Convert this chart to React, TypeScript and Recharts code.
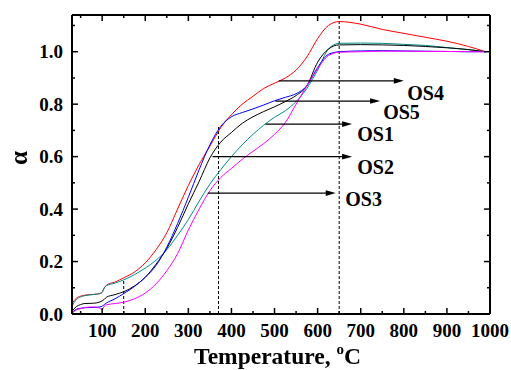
import { LineChart, Line, XAxis, YAxis, ReferenceLine, ReferenceDot } from "recharts";

const temps = [
  30, 40, 50, 60, 80, 95, 100, 105, 110, 130, 150, 175, 200, 225, 250, 275, 300, 325, 350,
  375, 400, 425, 450, 475, 500, 525, 550, 575, 600, 625, 650, 700, 750, 800, 850, 900, 950, 990,
];

// teal
const os1 = [
  0.03, 0.055, 0.065, 0.07, 0.074, 0.078, 0.085, 0.1, 0.108, 0.118, 0.13, 0.15, 0.175, 0.205,
  0.245, 0.3, 0.36, 0.43, 0.495, 0.55, 0.6, 0.645, 0.685, 0.72, 0.75, 0.775, 0.81, 0.86, 0.93,
  1.01, 1.032, 1.033, 1.032, 1.028, 1.024, 1.016, 1.008, 1.0,
];
// black
const os2 = [
  0.01, 0.028, 0.036, 0.04, 0.041, 0.046, 0.05, 0.056, 0.064, 0.074, 0.085, 0.107, 0.14, 0.19,
  0.25, 0.33, 0.42, 0.505, 0.595, 0.655, 0.692, 0.727, 0.752, 0.772, 0.79, 0.81, 0.833, 0.87,
  0.96, 1.01, 1.026, 1.027, 1.026, 1.024, 1.02, 1.015, 1.008, 1.0,
];
// magenta
const os3 = [
  0.003, 0.015, 0.02, 0.025, 0.027, 0.022, 0.015, 0.03, 0.035, 0.04, 0.045, 0.058, 0.08, 0.115,
  0.165, 0.23, 0.32, 0.4, 0.47, 0.52, 0.555, 0.59, 0.62, 0.65, 0.685, 0.73, 0.8, 0.87, 0.935,
  0.985, 0.998, 1.0, 1.002, 1.002, 1.001, 1.001, 1.0, 1.0,
];
// red
const os4 = [
  0.04, 0.06, 0.068, 0.072, 0.075, 0.078, 0.082, 0.1, 0.11, 0.122, 0.138, 0.16, 0.195, 0.245,
  0.31, 0.4, 0.49, 0.57, 0.64, 0.71, 0.76, 0.8, 0.83, 0.86, 0.88, 0.9, 0.93, 0.98, 1.05, 1.1,
  1.115, 1.105, 1.085, 1.07, 1.055, 1.04, 1.02, 1.0,
];
// blue
const os5 = [
  0.005, 0.018, 0.022, 0.024, 0.025, 0.027, 0.03, 0.036, 0.042, 0.058, 0.078, 0.105, 0.14,
  0.185, 0.255, 0.345, 0.445, 0.55, 0.645, 0.715, 0.752, 0.768, 0.782, 0.797, 0.813, 0.826,
  0.84, 0.87, 0.94, 0.99, 1.0, 1.003, 1.004, 1.003, 1.002, 1.001, 1.0, 1.0,
];

const xTicks = [50, 100, 150, 200, 250, 300, 350, 400, 450, 500, 550, 600, 650, 700, 750, 800, 850, 900, 950, 1000];
const yTicks = [0, 0.1, 0.2, 0.3, 0.4, 0.5, 0.6, 0.7, 0.8, 0.9, 1.0, 1.1];

// dashed guide lines: x position and height
const guideX = [150, 370, 650];
const guideTop = [0.13, 0.713, 1.14];

// arrows and their labels
const arrowNames = ["OS4", "OS5", "OS1", "OS2", "OS3"];
const arrowStart = [510, 502, 479, 356, 345];
const arrowEnd = [800, 745, 680, 680, 642];
const arrowY = [0.889, 0.812, 0.724, 0.6, 0.461];
const labelX = [808, 752, 692, 692, 664];
const labelY = [0.843, 0.77, 0.686, 0.56, 0.438];

const data = temps.map((t, i) => ({ t, os1: os1[i], os2: os2[i], os3: os3[i], os4: os4[i], os5: os5[i] }));

const FONT = '"Liberation Serif", "Times New Roman", Times, serif';

const isMajorX = (v: number) => v % 100 === 0;
const isMajorY = (v: number) => Math.round(v * 10) % 2 === 0;

const BottomTick = ({ x, y, payload }: any) => {
  const major = isMajorX(payload.value);
  return (
    <g>
      <line x1={x} x2={x} y1={y} y2={y - (major ? 6 : 3)} stroke="#000" strokeWidth={1.5} />
      {major && (
        <text x={x} y={y + 23} textAnchor="middle" fontFamily={FONT} fontWeight="bold" fontSize={19} fill="#000">
          {payload.value}
        </text>
      )}
    </g>
  );
};

const TopTick = ({ x, y, payload }: any) => {
  const major = isMajorX(payload.value);
  return <line x1={x} x2={x} y1={y} y2={y + (major ? 6 : 3)} stroke="#000" strokeWidth={1.5} />;
};

const LeftTick = ({ x, y, payload }: any) => {
  const major = isMajorY(payload.value);
  return (
    <g>
      <line x1={x} x2={x + (major ? 6 : 3)} y1={y} y2={y} stroke="#000" strokeWidth={1.5} />
      {major && (
        <text x={x - 9} y={y} dy="0.35em" textAnchor="end" fontFamily={FONT} fontWeight="bold" fontSize={19} fill="#000">
          {payload.value.toFixed(1)}
        </text>
      )}
    </g>
  );
};

const RightTick = ({ x, y, payload }: any) => {
  const major = isMajorY(payload.value);
  return <line x1={x} x2={x - (major ? 6 : 3)} y1={y} y2={y} stroke="#000" strokeWidth={1.5} />;
};

const Arrow = ({ x1, y1, x2, y2 }: any) => (
  <g>
    <line x1={x1} y1={y1} x2={x2 - 8} y2={y2} stroke="#000" strokeWidth={1.2} />
    <polygon points={`${x2},${y2} ${x2 - 10},${y2 - 2.8} ${x2 - 10},${y2 + 2.8}`} fill="#000" />
  </g>
);

const axisLine = { stroke: "#000", strokeWidth: 2 };

export default function App() {
  return (
    <div style={{ position: "fixed", left: 8, top: 8, width: 503, height: 362, background: "#fff" }}>
      <LineChart width={503} height={362} data={data} margin={{ top: 6, right: 20, bottom: 26, left: 14 }}>
        <XAxis
          type="number"
          dataKey="t"
          domain={[30, 1000]}
          ticks={xTicks}
          interval={0}
          allowDataOverflow
          height={30}
          tickSize={0}
          tickMargin={0}
          tickLine={false}
          axisLine={axisLine}
          tick={<BottomTick />}
        />
        <XAxis
          xAxisId="top"
          orientation="top"
          type="number"
          dataKey="t"
          domain={[30, 1000]}
          ticks={xTicks}
          interval={0}
          allowDataOverflow
          height={1}
          tickSize={0}
          tickMargin={0}
          tickLine={false}
          axisLine={axisLine}
          tick={<TopTick />}
        />
        <YAxis
          type="number"
          domain={[0, 1.14]}
          ticks={yTicks}
          interval={0}
          allowDataOverflow
          width={50}
          tickSize={0}
          tickMargin={0}
          tickLine={false}
          axisLine={axisLine}
          tick={<LeftTick />}
        />
        <YAxis
          yAxisId="right"
          orientation="right"
          type="number"
          domain={[0, 1.14]}
          ticks={yTicks}
          interval={0}
          allowDataOverflow
          width={1}
          tickSize={0}
          tickMargin={0}
          tickLine={false}
          axisLine={axisLine}
          tick={<RightTick />}
        />

        {guideX.map((gx, i) => (
          <ReferenceLine
            key={`g${i}`}
            segment={[{ x: gx, y: 0 }, { x: gx, y: guideTop[i] }]}
            stroke="#000"
            strokeWidth={1}
            strokeDasharray="3 2"
          />
        ))}

        <Line type="monotone" dataKey="os4" stroke="#ff0000" strokeWidth={1} dot={false} isAnimationActive={false} />
        <Line type="monotone" dataKey="os1" stroke="#008b8b" strokeWidth={1} dot={false} isAnimationActive={false} />
        <Line type="monotone" dataKey="os2" stroke="#000000" strokeWidth={1} dot={false} isAnimationActive={false} />
        <Line type="monotone" dataKey="os5" stroke="#0000ff" strokeWidth={1} dot={false} isAnimationActive={false} />
        <Line type="monotone" dataKey="os3" stroke="#ff00ff" strokeWidth={1} dot={false} isAnimationActive={false} />

        {arrowNames.map((n, i) => (
          <ReferenceLine
            key={`a${n}`}
            segment={[{ x: arrowStart[i], y: arrowY[i] }, { x: arrowEnd[i], y: arrowY[i] }]}
            shape={<Arrow />}
          />
        ))}
        {arrowNames.map((n, i) => (
          <ReferenceDot
            key={`l${n}`}
            x={labelX[i]}
            y={labelY[i]}
            r={0}
            shape={(p: any) => (
              <text x={p.cx} y={p.cy} dy="0.35em" fontFamily={FONT} fontWeight="bold" fontSize={20} fill="#000">
                {n}
              </text>
            )}
          />
        ))}
      </LineChart>

      <div
        style={{
          position: "absolute",
          left: 119.5,
          width: 300,
          top: 336,
          textAlign: "center",
          fontFamily: FONT,
          fontWeight: "bold",
          fontSize: 23.5,
          lineHeight: "24px",
          whiteSpace: "nowrap",
        }}
      >
        Temperature,{" "}
        <span style={{ fontSize: 15, position: "relative", top: -10 }}>o</span>C
      </div>
      <div
        style={{
          position: "absolute",
          left: -4,
          top: 135,
          width: 30,
          height: 30,
          lineHeight: "30px",
          textAlign: "center",
          transform: "rotate(-90deg)",
          fontFamily: FONT,
          fontWeight: "bold",
          fontSize: 25,
        }}
      >
        α
      </div>
    </div>
  );
}
